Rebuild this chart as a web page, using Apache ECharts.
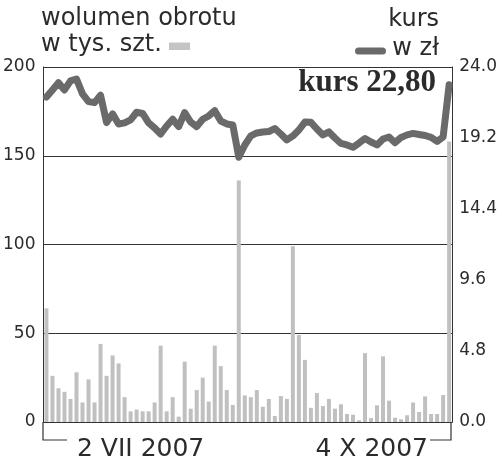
<!DOCTYPE html>
<html>
<head>
<meta charset="utf-8">
<script src="https://cdn.jsdelivr.net/npm/echarts@6/dist/echarts.min.js"></script>
<style>
  html, body { margin: 0; padding: 0; background: #fff; }
  #chart { width: 500px; height: 464px; }
</style>
</head>
<body>
<div id="chart"></div>
<script>
// sesje od 2 VII do 4 X 2007 (bez 15 VIII)
var days = [
  '02.07','03.07','04.07','05.07','06.07','09.07','10.07','11.07','12.07','13.07',
  '16.07','17.07','18.07','19.07','20.07','23.07','24.07','25.07','26.07','27.07',
  '30.07','31.07','01.08','02.08','03.08','06.08','07.08','08.08','09.08','10.08',
  '13.08','14.08','16.08','17.08','20.08','21.08','22.08','23.08','24.08','27.08',
  '28.08','29.08','30.08','31.08','03.09','04.09','05.09','06.09','07.09','10.09',
  '11.09','12.09','13.09','14.09','17.09','18.09','19.09','20.09','21.09','24.09',
  '25.09','26.09','27.09','28.09','01.10','02.10','03.10','04.10'
];

// wolumen obrotu w tys. szt.
var wolumen = [
  64, 26, 19, 17, 13, 28, 11, 24, 11, 44,
  26, 37.5, 33, 14, 6, 7, 6, 6, 11, 43,
  6, 14, 3, 34, 7.5, 18, 25, 11.5, 43, 31.5,
  18, 9.6, 136, 15, 14, 18, 8.6, 13, 3.4, 14.6,
  13, 99, 49, 35, 8, 16.3, 9, 13, 7.5, 10,
  4.5, 4.1, 1, 38.8, 2.2, 9.4, 37, 12, 2.4, 1.5,
  3.8, 11, 5.6, 14.4, 4.5, 4.5, 15.2, 158
];

// kurs w zł
var kurs = [
  21.97, 22.45, 22.94, 22.45, 23.06, 23.19, 22.18, 21.66, 21.59, 22.09,
  20.24, 20.83, 20.15, 20.22, 20.42, 20.94, 20.86, 20.22, 19.88, 19.47,
  20.01, 20.47, 19.97, 20.91, 20.28, 19.97, 20.47, 20.69, 21.05, 20.35,
  20.15, 20.08, 17.90, 18.73, 19.34, 19.54, 19.61, 19.64, 19.84, 19.47,
  19.07, 19.34, 19.74, 20.28, 20.26, 19.81, 19.41, 19.61, 19.20, 18.83,
  18.73, 18.57, 18.86, 19.17, 18.93, 18.73, 19.13, 19.27, 18.88, 19.24,
  19.41, 19.51, 19.44, 19.37, 19.24, 18.97, 19.27, 22.80
];

var volMax = 200, volStep = 50;
var kursMax = 24, kursStep = 4.8;

var ink = '#2b2b2b';
var sans = 'DejaVu Sans';

// tekst ustawiany po linii bazowej
function label(text, x, base, size, align, font) {
  return {
    type: 'text',
    style: {
      text: text,
      x: x,
      y: base - 0.34 * size,
      textAlign: align,
      textVerticalAlign: 'middle',
      font: font || (size + 'px "' + sans + '"'),
      fill: ink
    }
  };
}

var chart = echarts.init(document.getElementById('chart'));
chart.setOption({
  animation: false,
  grid: { left: 42, right: 47, top: 67, bottom: 42 },
  xAxis: {
    type: 'category',
    data: days,
    axisLine: { lineStyle: { color: '#333', width: 1 } },
    axisTick: { show: false },
    axisLabel: { show: false }
  },
  yAxis: [{
    type: 'value',
    min: 0, max: volMax, interval: volStep,
    axisLine: { show: true, lineStyle: { color: '#333' } },
    axisTick: { show: false },
    splitLine: { lineStyle: { color: '#333', width: 1 } },
    axisLabel: { margin: 8, color: ink, fontFamily: sans, fontSize: 17 }
  }, {
    type: 'value',
    position: 'right',
    min: 0, max: kursMax, interval: kursStep,
    axisLine: { show: true, lineStyle: { color: '#333' } },
    axisTick: { show: false },
    splitLine: { show: false },
    axisLabel: {
      margin: 7, color: ink, fontFamily: sans, fontSize: 17,
      formatter: function (v) { return v.toFixed(1); }
    }
  }],
  series: [{
    name: 'wolumen',
    type: 'bar',
    data: wolumen,
    barWidth: 4,
    itemStyle: { color: '#c0c0c0' }
  }, {
    name: 'kurs',
    type: 'line',
    yAxisIndex: 1,
    data: kurs,
    symbol: 'none',
    z: 5,
    lineStyle: { color: '#6a6a6a', width: 7, cap: 'round', join: 'round' }
  }],
  graphic: [
    label('wolumen obrotu', 41, 26.7, 24, 'left'),
    label('w tys. szt.', 41, 52.5, 24, 'left'),
    { type: 'rect', shape: { x: 169, y: 42.5, width: 21, height: 7.5 }, style: { fill: '#c4c4c4' } },
    label('kurs', 439, 28.3, 24, 'right'),
    label('w zł', 439, 56.7, 24, 'right'),
    { type: 'line', shape: { x1: 358.5, y1: 51, x2: 382.5, y2: 51 },
      style: { stroke: '#6a6a6a', lineWidth: 7, lineCap: 'round' } },
    label('kurs 22,80', 436, 93.3, 31, 'right', 'bold 31px "Liberation Serif"'),
    { type: 'polyline', shape: { points: [[43, 422], [43, 440], [67, 440]] },
      style: { stroke: '#333', lineWidth: 1.2, fill: null } },
    label('2 VII 2007', 77, 458, 25, 'left'),
    { type: 'polyline', shape: { points: [[430, 440], [451, 440], [451, 422]] },
      style: { stroke: '#333', lineWidth: 1.2, fill: null } },
    label('4 X 2007', 428, 458, 25, 'right')
  ]
});
</script>
</body>
</html>
